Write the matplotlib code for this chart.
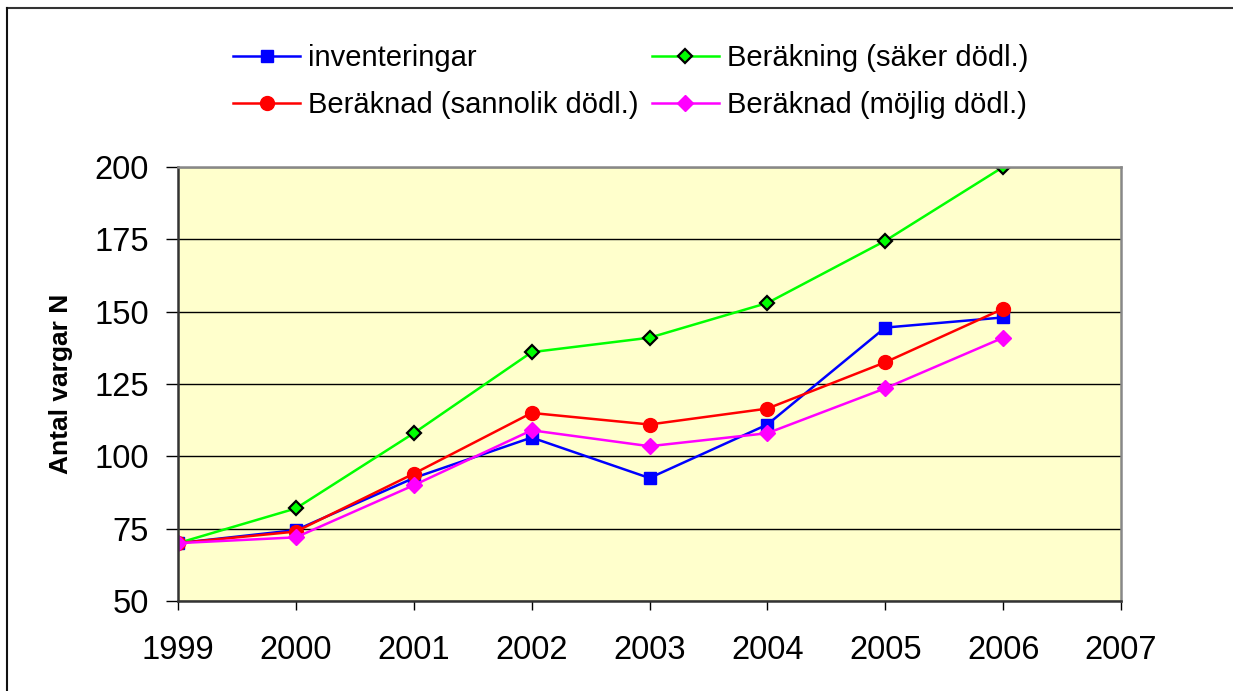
import matplotlib

matplotlib.use("Agg")
import matplotlib.pyplot as plt
from matplotlib.lines import Line2D

plt.rcParams["font.family"] = ["Liberation Sans", "DejaVu Sans"]

years = [1999, 2000, 2001, 2002, 2003, 2004, 2005, 2006]
inventeringar = [70, 74.5, 92.5, 106.5, 92.5, 111, 144.5, 148]
saker = [70, 82, 108, 136, 141, 153, 174.5, 200]
sannolik = [70, 74, 94, 115, 111, 116.5, 132.5, 151]
mojlig = [70, 72, 90, 109, 103.5, 108, 123.5, 141]

x_ticks = list(range(1999, 2008))
y_ticks = [50, 75, 100, 125, 150, 175, 200]

fig = plt.figure(figsize=(12.33, 6.91), dpi=100)
ax = fig.add_axes([178 / 1233, 1 - 601 / 691, (1121 - 178) / 1233, (601 - 167) / 691])
ax.set_facecolor("#FFFFCC")

h_inv, = ax.plot(years, inventeringar, color="#0000FF", lw=1.8, marker="s", ms=9,
                 mfc="#0000FF", mec="#0000FF", label="inventeringar")
h_sak, = ax.plot(years, saker, color="#00FF00", lw=1.8, marker="D", ms=7.6,
                 mfc="#00FF00", mec="black", mew=1.6, label="Beräkning (säker dödl.)")
h_san, = ax.plot(years, sannolik, color="#FF0000", lw=1.8, marker="o", ms=10,
                 mfc="#FF0000", mec="#FF0000", label="Beräknad (sannolik dödl.)")
h_moj, = ax.plot(years, mojlig, color="#FF00FF", lw=1.8, marker="D", ms=7.8,
                 mfc="#FF00FF", mec="#FF00FF", label="Beräknad (möjlig dödl.)")

ax.set_xlim(1999, 2007)
ax.set_ylim(50, 200)
ax.set_xticks(x_ticks)
ax.set_yticks(y_ticks)
ax.tick_params(axis="x", direction="out", length=6.5, width=1, pad=18, labelsize=23.5)
ax.tick_params(axis="y", direction="out", length=9, width=1, pad=12, labelsize=23.5)
ax.yaxis.grid(True, color="black", lw=1)
ax.set_axisbelow(True)
for side in ("left", "bottom"):
    ax.spines[side].set_color("#333333")
    ax.spines[side].set_linewidth(1.8)
for side in ("top", "right"):
    ax.spines[side].set_color("#888888")
    ax.spines[side].set_linewidth(1.8)

ax.set_ylabel("Antal vargar N", fontsize=19, fontweight="bold", labelpad=15)

fig.legend(handles=[h_inv, h_san, h_sak, h_moj], ncol=2, frameon=False,
           loc="upper left", bbox_to_anchor=(233 / 1233, 1 - 44 / 691),
           borderpad=0, borderaxespad=0, fontsize=21, handlelength=2.3,
           handletextpad=0.28, columnspacing=0.45, labelspacing=0.66)

# outer chart frame (only top and left edges visible)
fig.add_artist(Line2D([7 / 1233, 1], [1 - 8 / 691] * 2, color="#333333", lw=1.5))
fig.add_artist(Line2D([7 / 1233] * 2, [0, 1 - 8 / 691], color="#111111", lw=1.5))

fig.savefig("out.png", dpi=100)
